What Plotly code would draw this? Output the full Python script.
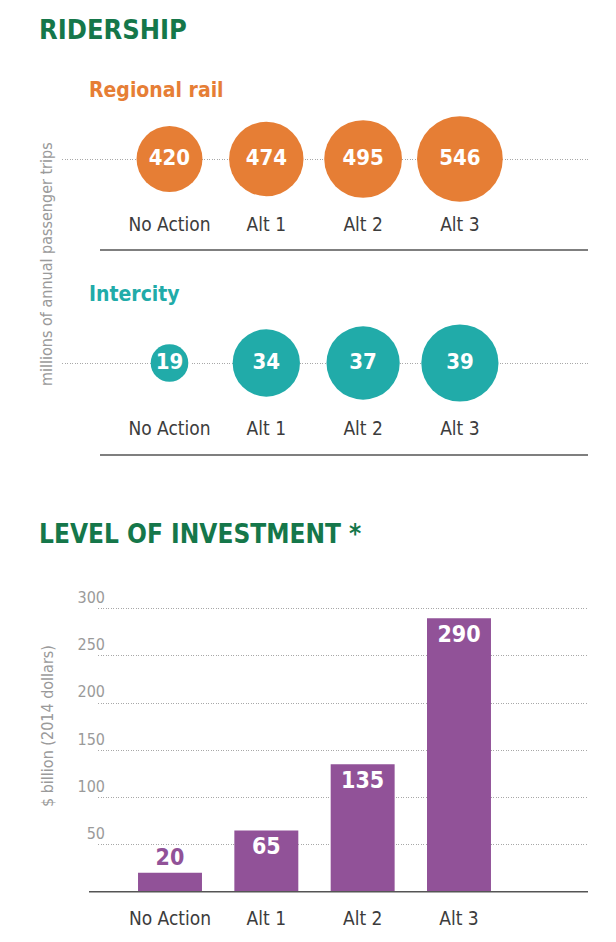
import plotly.graph_objects as go

W, H = 616, 942

# ---------------- data ----------------
categories = ["No Action", "Alt 1", "Alt 2", "Alt 3"]
regional_rail = [420, 474, 495, 546]
intercity = [19, 34, 37, 39]
investment = [20, 65, 135, 290]
inv_ticks = [50, 100, 150, 200, 250, 300]

# ---------------- style ----------------
COND = "DejaVu Sans Condensed, Liberation Sans Narrow, sans-serif"
GREEN = "#15774a"
ORANGE = "#e67e35"
TEAL = "#21aba9"
PURPLE = "#915298"
GRAY = "#9a9a9a"
DARK = "#3c3c3c"


def fx(p):
    return p / W


def fy(p):
    return 1 - p / H


fig = go.Figure()

# bubble size scale (diameter in px per unit)
rr_scale = 0.157
ic_scale = 1.98

fig.add_trace(go.Scatter(
    x=categories, y=[0] * len(categories), mode="markers+text",
    marker=dict(size=[v * rr_scale for v in regional_rail], sizemode="diameter",
                color=ORANGE, line=dict(width=0), opacity=1),
    text=[str(v) for v in regional_rail], textposition="middle center",
    textfont=dict(family=COND, size=22, color="white", weight="bold"),
    xaxis="x", yaxis="y", cliponaxis=False, hoverinfo="skip", showlegend=False,
))

fig.add_trace(go.Scatter(
    x=categories, y=[0] * len(categories), mode="markers+text",
    marker=dict(size=[v * ic_scale for v in intercity], sizemode="diameter",
                color=TEAL, line=dict(width=0), opacity=1),
    text=[str(v) for v in intercity], textposition="middle center",
    textfont=dict(family=COND, size=22, color="white", weight="bold"),
    xaxis="x2", yaxis="y2", cliponaxis=False, hoverinfo="skip", showlegend=False,
))

fig.add_trace(go.Bar(
    x=categories, y=investment, width=0.664,
    marker=dict(color=PURPLE, line=dict(width=0)),
    text=[str(v) for v in investment],
    textposition=["outside", "inside", "inside", "inside"],
    insidetextanchor="end",
    textfont=dict(family=COND, size=23, color=[PURPLE, "white", "white", "white"], weight="bold"),
    constraintext="none", cliponaxis=False,
    xaxis="x3", yaxis="y3", hoverinfo="skip", showlegend=False,
))


# x range so that category 0 lands at pixel c0 with spacing sp
def xr(left, right, c0, sp):
    return [(left - c0) / sp, (right - c0) / sp]


cat_font = dict(family=COND, size=19, color=DARK)

common_x = dict(type="category", categoryorder="array", categoryarray=categories,
                showgrid=False, zeroline=False, showline=False, ticks="",
                tickfont=cat_font, fixedrange=True, automargin=False)

dotgrid = dict(showgrid=True, gridcolor="#a8a8a8", griddash="1px,1.5px", gridwidth=1,
               zeroline=False, showline=False, fixedrange=True, automargin=False)

layout = dict(
    width=W, height=H, margin=dict(l=0, r=0, t=0, b=0, pad=0, autoexpand=False),
    paper_bgcolor="white", plot_bgcolor="rgba(0,0,0,0)",
    font=dict(family=COND),
    xaxis=dict(common_x, domain=[fx(62), fx(588)], range=xr(62, 588, 169.5, 96.8),
               anchor="y", ticklabelstandoff=6),
    yaxis=dict(dotgrid, domain=[fy(205), fy(113)], range=[-1, 1], tickvals=[0],
               showticklabels=False, anchor="x"),
    xaxis2=dict(common_x, domain=[fx(62), fx(588)], range=xr(62, 588, 169.5, 96.8),
                anchor="y2", ticklabelstandoff=6),
    yaxis2=dict(dotgrid, domain=[fy(409), fy(317)], range=[-1, 1], tickvals=[0],
                showticklabels=False, anchor="x2"),
    xaxis3=dict(common_x, domain=[fx(98), fx(588)], range=xr(98, 588, 170, 96.33),
                anchor="y3", ticklabelstandoff=13),
    yaxis3=dict(dotgrid, domain=[fy(891.7), fy(599.3)], range=[0, 310], tickvals=inv_ticks,
                ticktext=[str(t) for t in inv_ticks],
                ticklabelposition="outside top", ticklabelstandoff=-8, ticks="",
                tickfont=dict(family=COND, size=16, color=GRAY), anchor="x3"),
    shapes=[
        dict(type="line", xref="paper", yref="paper", x0=fx(100), x1=fx(588),
             y0=fy(250), y1=fy(250), line=dict(color="#555555", width=1.5)),
        dict(type="line", xref="paper", yref="paper", x0=fx(100), x1=fx(588),
             y0=fy(455), y1=fy(455), line=dict(color="#555555", width=1.5)),
        dict(type="line", xref="paper", yref="paper", x0=fx(89), x1=fx(588),
             y0=fy(891.7), y1=fy(891.7), line=dict(color="#555555", width=1.5)),
    ],
    annotations=[
        dict(text="RIDERSHIP", x=fx(37), y=fy(30), xref="paper", yref="paper",
             xanchor="left", yanchor="middle", showarrow=False,
             font=dict(family=COND, size=27, color=GREEN, weight="bold")),
        dict(text="LEVEL OF INVESTMENT *", x=fx(37), y=fy(534), xref="paper", yref="paper",
             xanchor="left", yanchor="middle", showarrow=False,
             font=dict(family=COND, size=26, color=GREEN, weight="bold")),
        dict(text="Regional rail", x=fx(87), y=fy(90), xref="paper", yref="paper",
             xanchor="left", yanchor="middle", showarrow=False,
             font=dict(family=COND, size=21, color=ORANGE, weight="bold")),
        dict(text="Intercity", x=fx(87), y=fy(294), xref="paper", yref="paper",
             xanchor="left", yanchor="middle", showarrow=False,
             font=dict(family=COND, size=21, color=TEAL, weight="bold")),
        dict(text="millions of annual passenger trips", x=fx(47), y=fy(264),
             xref="paper", yref="paper", xanchor="center", yanchor="middle",
             textangle=-90, showarrow=False,
             font=dict(family=COND, size=16, color=GRAY)),
        dict(text="$ billion (2014 dollars)", x=fx(47), y=fy(726),
             xref="paper", yref="paper", xanchor="center", yanchor="middle",
             textangle=-90, showarrow=False,
             font=dict(family=COND, size=16, color=GRAY)),
    ],
)

fig.update_layout(**layout)
fig.write_html("out.html", config={"displayModeBar": False},
               post_script="document.body.style.margin='0';document.body.style.padding='0';")
